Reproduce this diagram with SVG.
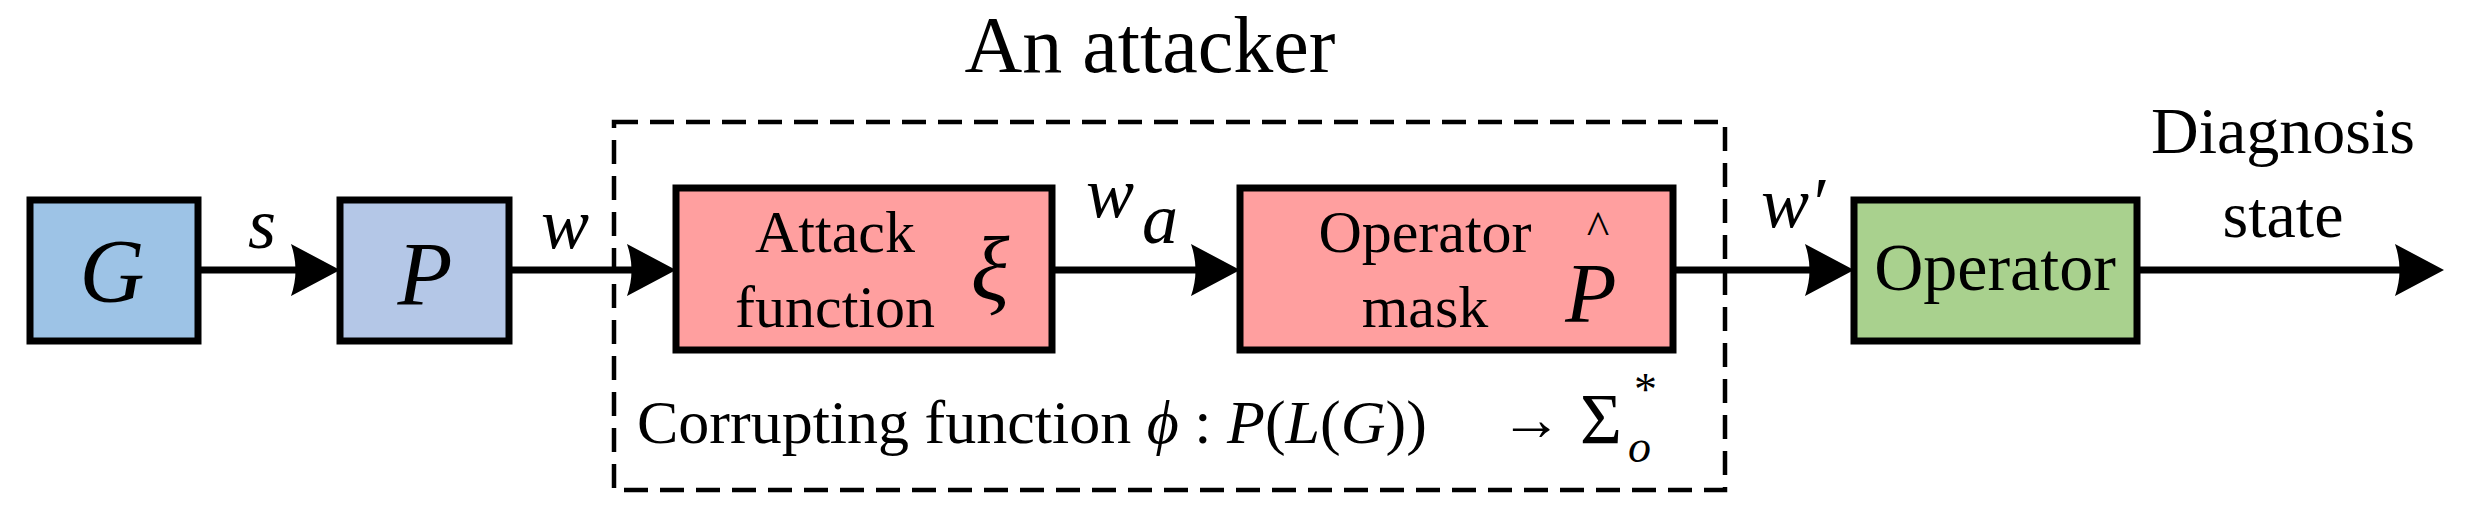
<svg xmlns="http://www.w3.org/2000/svg" width="2475" height="511" viewBox="0 0 2475 511" font-family="'Liberation Serif','Times New Roman','DejaVu Serif',serif">
<style>
.box{stroke:#000;stroke-width:7}
.t{font-family:'Liberation Serif','Times New Roman','DejaVu Serif',serif;fill:#000}
.i{font-style:italic}
.ln{stroke:#000;stroke-width:7;fill:none}
.ah{fill:#000}
</style>
<rect width="2475" height="511" fill="#fff"/>
<text class="t" x="1150" y="72" font-size="80" text-anchor="middle">An attacker</text>
<g id="attacker">
<rect x="614" y="122" width="1111" height="368" fill="none" stroke="#000" stroke-width="4.5" stroke-dasharray="24 12"/>
<text class="t" x="637" y="443" font-size="62">Corrupting function <tspan class="i">ϕ</tspan> : <tspan class="i">P</tspan>(<tspan class="i">L</tspan>(<tspan class="i">G</tspan>))</text>
<text class="t" x="1500" y="440" font-size="62">→</text>
<text class="t" x="1580" y="443" font-size="72">Σ</text>
<text class="t i" x="1628" y="462" font-size="46">o</text>
<text class="t" x="1634" y="405" font-size="46">*</text>
</g>
<g id="connectors">
<line class="ln" x1="198" y1="270" x2="300" y2="270"/>
<path class="ah" d="M340,270 L291,244 Q300,270 291,296 Z"/>
<line class="ln" x1="509" y1="270" x2="636" y2="270"/>
<path class="ah" d="M676,270 L627,244 Q636,270 627,296 Z"/>
<line class="ln" x1="1052" y1="270" x2="1200" y2="270"/>
<path class="ah" d="M1240,270 L1191,244 Q1200,270 1191,296 Z"/>
<line class="ln" x1="1673" y1="270" x2="1814" y2="270"/>
<path class="ah" d="M1854,270 L1805,244 Q1814,270 1805,296 Z"/>
<line class="ln" x1="2137" y1="270" x2="2404" y2="270"/>
<path class="ah" d="M2444,270 L2395,244 Q2404,270 2395,296 Z"/>
<text class="t i" x="262" y="248" font-size="72" text-anchor="middle">s</text>
<text class="t i" x="565" y="248" font-size="72" text-anchor="middle">w</text>
<text class="t i" x="1110" y="217" font-size="72" text-anchor="middle">w</text>
<text class="t i" x="1160" y="243" font-size="72" text-anchor="middle">a</text>
<text class="t i" x="1793" y="227" font-size="72" text-anchor="middle">w′</text>
<text class="t" x="2283" y="153" font-size="66" text-anchor="middle">Diagnosis</text>
<text class="t" x="2283" y="237" font-size="66" text-anchor="middle">state</text>
</g>
<g id="G">
<rect class="box" x="30" y="200" width="168" height="141" fill="#9DC3E6"/>
<text class="t i" x="112" y="302" font-size="90" text-anchor="middle">G</text>
</g>
<g id="P">
<rect class="box" x="340" y="200" width="169" height="141" fill="#B4C7E7"/>
<text class="t i" x="425" y="305" font-size="90" text-anchor="middle">P</text>
</g>
<g id="attack">
<rect class="box" x="676" y="188" width="376" height="162" fill="#FF9F9F"/>
<text class="t" x="835" y="252" font-size="60" text-anchor="middle">Attack</text>
<text class="t" x="835" y="327" font-size="60" text-anchor="middle">function</text>
<text class="t i" x="990" y="300" font-size="90" text-anchor="middle">ξ</text>
</g>
<g id="mask">
<rect class="box" x="1240" y="188" width="433" height="162" fill="#FF9F9F"/>
<text class="t" x="1425" y="252" font-size="60" text-anchor="middle">Operator</text>
<text class="t" x="1425" y="327" font-size="60" text-anchor="middle">mask</text>
<text class="t i" x="1591" y="322" font-size="84" text-anchor="middle">P</text>
<text class="t" x="1598" y="244" font-size="48" text-anchor="middle">^</text>
</g>
<g id="operator">
<rect class="box" x="1854" y="200" width="283" height="141" fill="#A9D18E"/>
<text class="t" x="1995" y="290" font-size="68" text-anchor="middle">Operator</text>
</g>
</svg>
